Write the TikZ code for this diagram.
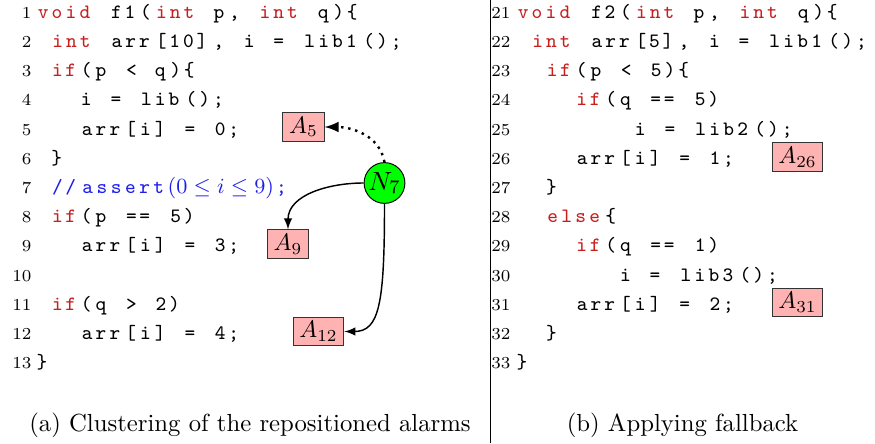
\documentclass[tikz,border=0pt]{standalone}
\usepackage{listings}
\definecolor{kwred}{RGB}{200,30,30}
\definecolor{cmtblue}{RGB}{30,30,235}
\definecolor{alarmpink}{RGB}{255,178,178}
\lstset{language=C,basicstyle=\fontsize{8.5}{10}\selectfont\ttfamily,
  basewidth=6.17pt,keywordstyle=\color{kwred},
  commentstyle=\color{cmtblue}}
% inline code with fixed columns
\newcommand{\code}{\lstinline[columns=fixed]}
\tikzset{
  codeline/.style={anchor=base west,inner sep=0pt},
  lineno/.style={anchor=base east,inner sep=0pt,font=\scriptsize},
  alarm/.style={draw=black!80,fill=alarmpink,inner xsep=2.6pt,inner ysep=1pt,minimum height=11.8pt},
  cluster/.style={circle,draw,fill=green,minimum size=17pt,inner sep=0pt,font=\fontsize{11}{13}\selectfont},
}
\begin{document}
\begin{tikzpicture}[x=0.4167pt,y=0.4167pt]
\useasboundingbox (0,0) rectangle (875,443);
\def\pitch{14.8} % one code column
\def\firstbase{424.7}
\def\rowh{29.2}
\def\lx{34}
\def\rx{514}
% line numbers
\foreach \n in {1,...,13}
  \node[lineno] (ln\n) at (32,{\firstbase-(\n-1)*\rowh}) {\n};
\foreach \n in {21,...,33}
  \node[lineno] (ln\n) at (511,{\firstbase-(\n-21)*\rowh}) {\n};
% f1
\node[codeline] (c1) at (\lx,\firstbase) {\code!void f1(int p, int q){!};
\node[codeline] (c2) at ({\lx+\pitch},{\firstbase-\rowh}) {\code!int arr[10], i = lib1();!};
\node[codeline] (c3) at ({\lx+\pitch},{\firstbase-2*\rowh}) {\code!if(p < q){!};
\node[codeline] (c4) at ({\lx+3*\pitch},{\firstbase-3*\rowh}) {\code!i = lib();!};
\node[codeline] (c5) at ({\lx+3*\pitch},{\firstbase-4*\rowh}) {\code!arr[i] = 0;!};
\node[codeline] (c6) at ({\lx+\pitch},{\firstbase-5*\rowh}) {\code!}!};
\node[codeline,text=cmtblue] (c7) at ({\lx+\pitch},{\firstbase-6*\rowh})
  {\code!//assert!{\fontsize{9.5}{11}\selectfont$(0\leq i\leq 9)$}\code!;!};
\node[codeline] (c8) at ({\lx+\pitch},{\firstbase-7*\rowh}) {\code!if(p == 5)!};
\node[codeline] (c9) at ({\lx+3*\pitch},{\firstbase-8*\rowh}) {\code!arr[i] = 3;!};
\node[codeline] (c11) at ({\lx+\pitch},{\firstbase-10*\rowh}) {\code!if(q > 2)!};
\node[codeline] (c12) at ({\lx+3*\pitch},{\firstbase-11*\rowh}) {\code!arr[i] = 4;!};
\node[codeline] (c13) at (\lx,{\firstbase-12*\rowh}) {\code!}!};
% f2
\node[codeline] (c21) at (\rx,\firstbase) {\code!void f2(int p, int q){!};
\node[codeline] (c22) at ({\rx+\pitch},{\firstbase-\rowh}) {\code!int arr[5], i = lib1();!};
\node[codeline] (c23) at ({\rx+2*\pitch},{\firstbase-2*\rowh}) {\code!if(p < 5){!};
\node[codeline] (c24) at ({\rx+4*\pitch},{\firstbase-3*\rowh}) {\code!if(q == 5)!};
\node[codeline] (c25) at ({\rx+8*\pitch},{\firstbase-4*\rowh}) {\code!i = lib2();!};
\node[codeline] (c26) at ({\rx+4*\pitch},{\firstbase-5*\rowh}) {\code!arr[i] = 1;!};
\node[codeline] (c27) at ({\rx+2*\pitch},{\firstbase-6*\rowh}) {\code!}!};
\node[codeline] (c28) at ({\rx+2*\pitch},{\firstbase-7*\rowh}) {\code!else{!};
\node[codeline] (c29) at ({\rx+4*\pitch},{\firstbase-8*\rowh}) {\code!if(q == 1)!};
\node[codeline] (c30) at ({\rx+7*\pitch},{\firstbase-9*\rowh}) {\code!i = lib3();!};
\node[codeline] (c31) at ({\rx+4*\pitch},{\firstbase-10*\rowh}) {\code!arr[i] = 2;!};
\node[codeline] (c32) at ({\rx+2*\pitch},{\firstbase-11*\rowh}) {\code!}!};
\node[codeline] (c33) at (\rx,{\firstbase-12*\rowh}) {\code!}!};
% alarms and the cluster
\node[alarm] (a5) at (303.5,316) {$A_{5}$};
\node[alarm] (a9) at (288,199) {$A_{9}$};
\node[alarm] (a12) at (318.5,111.5) {$A_{12}$};
\node[alarm] (a26) at (797.5,286) {$A_{26}$};
\node[alarm] (a31) at (797.5,140.5) {$A_{31}$};
\node[cluster] (n7) at (384.5,260) {$N_{7}$};
\draw[line width=1pt,dotted,-latex] (n7.north) to[out=100,in=0] (a5);
\draw[semithick,-latex] (n7.west) to[out=180,in=90] (a9.north);
\draw[semithick,-latex] (n7.south) .. controls +(0,-100) and +(35,0) .. (a12.east);
% separator and captions
\draw (490,0) -- (490,443);
\node[anchor=base,font=\fontsize{10.3}{12}\selectfont] (capa) at (250,12) {(a) Clustering of the repositioned alarms};
\node[anchor=base,font=\fontsize{10.3}{12}\selectfont] (capb) at (682.5,12) {(b) Applying fallback};
\end{tikzpicture}
\end{document}
